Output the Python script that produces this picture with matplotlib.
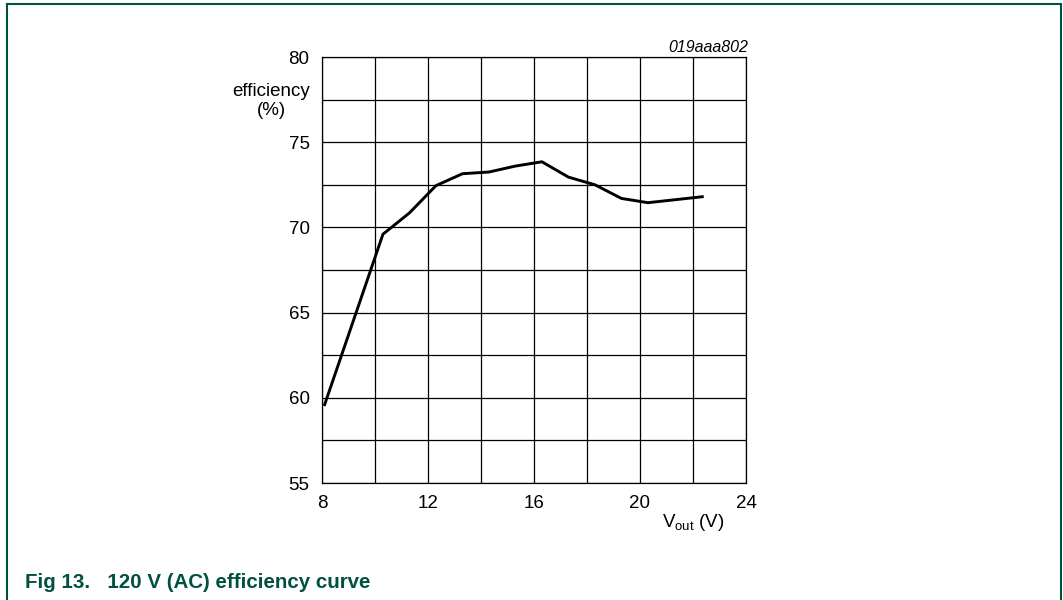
import matplotlib
matplotlib.use("Agg")
import matplotlib.pyplot as plt
from matplotlib.lines import Line2D
import numpy as np

plt.rcParams['font.family'] = ['Liberation Sans', 'DejaVu Sans']
plt.rcParams['mathtext.fontset'] = 'custom'
plt.rcParams['mathtext.rm'] = 'Liberation Sans'
plt.rcParams['mathtext.default'] = 'regular'

# data
vout = [8.1, 10.3, 11.3, 12.3, 13.3, 14.3, 15.3, 16.3, 17.3, 18.3, 19.3, 20.3, 22.35]
eff = [59.6, 69.6, 70.85, 72.45, 73.15, 73.25, 73.6, 73.85, 72.95, 72.5, 71.7, 71.45, 71.8]

x_ticks = np.arange(8, 25, 2)
x_labels = ['8', '', '12', '', '16', '', '20', '', '24']
y_ticks = np.arange(55, 80.1, 2.5)
y_labels = ['55', '', '60', '', '65', '', '70', '', '75', '', '80']

green = '#00513f'

fig = plt.figure(figsize=(10.63, 6), dpi=100)
ax = fig.add_axes([322/1063, 1-483/600, 424/1063, 426/600])

ax.plot(vout, eff, color='black', lw=2.1, solid_joinstyle='miter')

ax.set_xlim(8, 24)
ax.set_ylim(55, 80)
ax.set_xticks(x_ticks)
ax.set_xticklabels(x_labels)
ax.set_yticks(y_ticks)
ax.set_yticklabels(y_labels)
ax.tick_params(length=0, labelsize=13.5, colors='black')
ax.tick_params(axis='y', pad=9)
ax.tick_params(axis='x', pad=9)
ax.grid(True, color='black', lw=0.9)
for s in ax.spines.values():
    s.set_color('black')
    s.set_linewidth(0.9)

fig.text(271/1063, 1-101/600, 'efficiency\n(%)', ha='center', va='center',
         fontsize=13.5, linespacing=1.2)
fig.text(662/1063, 1-527/600, 'V$_{out}$ (V)', ha='left', va='baseline', fontsize=13.5)
fig.text(748/1063, 1-52/600, '019aaa802', ha='right', va='baseline',
         fontsize=11.5, style='italic')

fig.text(25/1063, 1-588/600, 'Fig 13.   120 V (AC) efficiency curve', ha='left',
         va='baseline', fontsize=14.8, fontweight='bold', color=green)

# green frame around the figure (open at the bottom)
fig.add_artist(Line2D([7/1063, 7/1063], [0, 1-4/600], color=green, lw=1.5))
fig.add_artist(Line2D([7/1063, 1061/1063], [1-4/600, 1-4/600], color=green, lw=1.5))
fig.add_artist(Line2D([1061/1063, 1061/1063], [0, 1-4/600], color=green, lw=1.5))

fig.savefig('out.png', dpi=100)
